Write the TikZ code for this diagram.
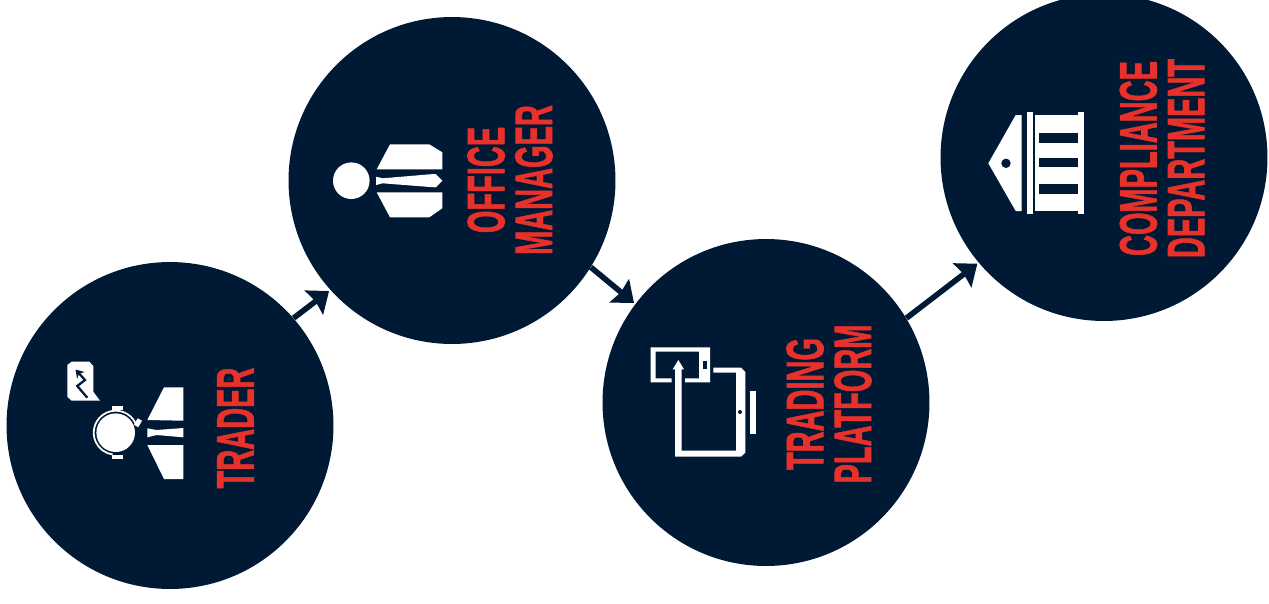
\documentclass[tikz,border=0pt]{standalone}
\usepackage{fontspec}
\setmainfont{Liberation Sans}
\newfontfamily\labelfont[BoldFeatures={FakeBold=1.6}]{Liberation Sans}
\usepackage{xcolor}
\usetikzlibrary{
  arrows.meta,
  shapes.geometric
}
\definecolor{stepnavy}{RGB}{0,26,54}
\definecolor{labelred}{RGB}{232,49,42}
\newcommand{\condtext}[1]{\scalebox{0.55}[1]{#1}}

\begin{document}
\begin{tikzpicture}[
  x=0.02cm, y=-0.02cm,
  stepdisc/.style={circle, fill=stepnavy, minimum size=6.54cm, inner sep=0pt},
  steplabel/.style={text=labelred, rotate=90, align=center, inner sep=0pt, font=\fontsize{30}{27.2}\labelfont\bfseries},
  flow/.style={-{Stealth[length=0.38cm, width=0.6cm, inset=0.04cm]}, line width=3.2pt, stepnavy, shorten >=0.03cm},
  icon/.style={fill=white},
  cutout/.style={fill=stepnavy}
]
  \useasboundingbox (0,0) rectangle (1269,603);

  % discs
  \node[stepdisc] (trader) at (170,425.5) {};
  \node[stepdisc] (manager) at (452,180.5) {};
  \node[stepdisc] (platform) at (766,402.5) {};
  \node[stepdisc] (compliance) at (1104,157.5) {};

  % connectors
  \draw[flow] (trader.41) -- (manager.222);
  \draw[flow] (manager.-32) -- (platform.143);
  \draw[flow] (platform.31) -- (compliance.220);

  % labels
  \node[steplabel] (traderlabel) at (235.5,428) {\condtext{TRADER}};
  \node[steplabel] (managerlabel) at (510,180) {\condtext{OFFICE}\\\condtext{MANAGER}};
  \node[steplabel] (platformlabel) at (829,404) {\condtext{TRADING}\\\condtext{PLATFORM}};
  \node[steplabel] (compliancelabel) at (1162,158.5) {\condtext{COMPLIANCE}\\\condtext{DEPARTMENT}};

  % trader icon
  \fill[icon] (67.3,365) -- (71.7,361.7) -- (89.3,361.7) -- (93.3,366) -- (93.3,391.7) -- (100,400.7) -- (71.7,400.7) -- (67.3,396.7) -- cycle;
  \draw[stepnavy, line width=1.3pt, -{Stealth[length=0.16cm, width=0.2cm]}] (87.3,397.7) -- (77.3,386) -- (85,380) -- (75.5,369.5);
  \fill[icon] (115.7,432.7) circle (19.3);
  \draw[white, line width=1pt] (115.7,432.7) ++(-25:22) arc[start angle=-25, end angle=-262, radius=22];
  \fill[icon] (111.7,406) rectangle (122.7,410);
  \fill[icon] (111.7,455) rectangle (122.7,459);
  \fill[icon, rotate around={-30:(138,422.7)}] (135.5,419) rectangle (140.5,426.5);
  \fill[icon] (147.3,420) -- (164,387.3) -- (183.3,387.3) -- (183.3,420.7) -- cycle;
  \fill[icon] (147.3,428.3) -- (156.7,430) -- (183.3,428) -- (183.3,437.3) -- (156.7,435) -- (147.3,437.3) -- cycle;
  \fill[icon] (147.3,445) -- (183.3,445) -- (183.3,479) -- (164,479) -- cycle;

  % manager icon
  \fill[icon] (351.3,180.7) circle (18.3);
  \fill[icon] (376.7,169.3) -- (390,144.3) -- (429.3,144.3) -- (442.3,152.3) -- (442.3,169.3) -- cycle;
  \fill[icon] (376,176.7) -- (382.7,178.3) -- (430,174.3) -- (435.7,174) -- (442.3,180.7) -- (435.7,187.3) -- (430,187) -- (382.7,183.3) -- (376,185) -- cycle;
  \fill[icon] (376.7,192.3) -- (442.3,192.3) -- (442.3,208.3) -- (429.3,217.3) -- (390,217.3) -- cycle;

  % platform icon
  \fill[icon] (685,382.3) -- (710,382.3) -- (710,347.3) -- (650.7,347.3) -- (650.7,382.3) -- (671.7,382.3) -- (671.7,378.3) -- (655.7,378.3) -- (655.7,351.7) -- (699,351.7) -- (699,378.3) -- (685,378.3) -- cycle;
  \fill[cutout] (703.3,360.7) rectangle (706.7,369);
  \fill[icon] (675,369) -- (675,456.7) -- (741,456.7) -- (745.3,452.7) -- (745.3,372) -- (741,367.7) -- (713.3,367.7) -- (713.3,372.7) -- (736,372.7) -- (736,450.7) -- (681.7,450.7) -- (681.7,369) -- cycle;
  \fill[icon] (678.3,360) -- (684,369.3) -- (672.7,369.3) -- cycle;
  \fill[cutout] (740,412) circle (2);
  \fill[icon] (750,391) rectangle (756,434);

  % compliance icon
  \fill[icon] (988.3,163.3) -- (1015.7,115) -- (1021.7,115) -- (1021.7,211) -- (1015.7,211) -- cycle;
  \fill[cutout] (1006,163.3) circle (4.7);
  \fill[icon] (1027,111.7) rectangle (1033.3,214);
  \fill[icon] (1035,115) rectangle (1078.3,211);
  \fill[icon] (1078.3,111.7) rectangle (1084.3,214);
  \foreach \slot in {133.3, 157.7, 184.3} {
    \fill[cutout] (1039.3,\slot) rectangle (1078.3,\slot+9.2);
  }
\end{tikzpicture}
\end{document}
